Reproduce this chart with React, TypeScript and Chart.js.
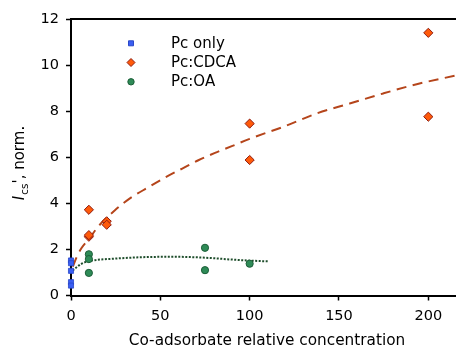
import React, { useEffect, useRef } from 'react';
import { Chart, registerables } from 'chart.js';

Chart.register(...registerables);

// ---- data ----
const pcOnlyX = [0, 0, 0, 0, 0];
const pcOnlyY = [1.52, 1.4, 1.07, 0.58, 0.43];

const cdcaX = [10, 10, 10, 20, 20, 100, 100, 200, 200];
const cdcaY = [3.72, 2.55, 2.62, 3.22, 3.07, 7.46, 5.88, 11.4, 7.76];

const oaX = [10, 10, 10, 75, 75, 100];
const oaY = [1.79, 1.58, 0.98, 2.07, 1.1, 1.38];

const cdcaFitX = [1, 3.2, 6, 10, 15.3, 24.6, 34, 43.4, 52.7, 62, 71.3, 80.6, 90, 100, 118.8, 137.5, 156, 174.8, 193.5, 215.5];
const cdcaFitY = [1.25, 1.67, 2.07, 2.45, 3.0, 3.7, 4.27, 4.7, 5.12, 5.5, 5.87, 6.19, 6.48, 6.8, 7.32, 7.9, 8.33, 8.77, 9.17, 9.55];

const oaFitX = [0.9, 6, 10, 24.6, 43.4, 58, 75, 90, 98.4, 110.5];
const oaFitY = [1.09, 1.38, 1.49, 1.6, 1.67, 1.68, 1.64, 1.56, 1.52, 1.48];

const xTicks = [0, 50, 100, 150, 200];
const yTicks = [0, 2, 4, 6, 8, 10, 12];

const legendLabels = ['Pc only', 'Pc:CDCA', 'Pc:OA'];
const xTitle = 'Co-adsorbate relative concentration';
const yTitleMain = 'I';
const yTitleSub = 'cs';
const yTitleRest = "', norm.";

const FONT = '"DejaVu Sans", "Liberation Sans", sans-serif';

const BLUE = '#3a5ef2';
const BLUE_EDGE = '#2a48c8';
const ORANGE = '#ff5a0a';
const ORANGE_EDGE = '#8f1c10';
const GREEN = '#2e8b57';
const GREEN_EDGE = '#1c5e38';
const FIT_RED = '#b5451b';
const FIT_GREEN = '#1e4d2b';

const zip = (xs: number[], ys: number[]) => xs.map((x, i) => ({ x, y: ys[i] }));

function drawMarker(ctx: CanvasRenderingContext2D, kind: number, x: number, y: number) {
  ctx.save();
  ctx.lineWidth = 1;
  if (kind === 0) {
    ctx.fillStyle = BLUE;
    ctx.strokeStyle = BLUE_EDGE;
    ctx.beginPath();
    ctx.rect(x - 2.5, y - 2.5, 5, 5);
    ctx.fill();
    ctx.stroke();
  } else if (kind === 1) {
    ctx.fillStyle = ORANGE;
    ctx.strokeStyle = ORANGE_EDGE;
    ctx.beginPath();
    ctx.moveTo(x - 4, y);
    ctx.lineTo(x, y - 4);
    ctx.lineTo(x + 4, y);
    ctx.lineTo(x, y + 4);
    ctx.closePath();
    ctx.fill();
    ctx.stroke();
  } else {
    ctx.fillStyle = GREEN;
    ctx.strokeStyle = GREEN_EDGE;
    ctx.beginPath();
    ctx.arc(x, y, 3.2, 0, Math.PI * 2);
    ctx.fill();
    ctx.stroke();
  }
  ctx.restore();
}

const decorPlugin = {
  id: 'decor',
  afterDraw(chart: any) {
    const ctx: CanvasRenderingContext2D = chart.ctx;
    const area = chart.chartArea;
    ctx.save();
    // top spine
    ctx.strokeStyle = '#000';
    ctx.lineWidth = 2;
    ctx.beginPath();
    ctx.moveTo(area.left - 1, area.top);
    ctx.lineTo(area.right, area.top);
    ctx.stroke();

    // legend
    const rowsMarkerY = [43.3, 62.5, 81.8];
    ctx.fillStyle = '#000';
    ctx.font = `15px ${FONT}`;
    ctx.textAlign = 'left';
    ctx.textBaseline = 'middle';
    legendLabels.forEach((label, i) => {
      drawMarker(ctx, i, 131, rowsMarkerY[i]);
      ctx.fillStyle = '#000';
      ctx.fillText(label, 171, rowsMarkerY[i] + 0.5);
    });

    // x title
    ctx.textAlign = 'center';
    ctx.textBaseline = 'alphabetic';
    ctx.font = `15.3px ${FONT}`;
    ctx.fillText(xTitle, 267, 344.5);

    // y title (rotated)
    const fMain = `15px ${FONT}`;
    const fIt = `italic 15px ${FONT}`;
    const fSub = `10.5px ${FONT}`;
    ctx.font = fIt;
    const wI = ctx.measureText(yTitleMain).width;
    ctx.font = fSub;
    const wS = ctx.measureText(yTitleSub).width;
    ctx.font = fMain;
    const wR = ctx.measureText(yTitleRest).width;
    const total = wI + 1 + wS + wR;
    ctx.translate(24, 163);
    ctx.rotate(-Math.PI / 2);
    ctx.textAlign = 'left';
    let px = -total / 2;
    ctx.font = fIt;
    ctx.fillText(yTitleMain, px, 0);
    px += wI + 1;
    ctx.font = fSub;
    ctx.fillText(yTitleSub, px, 3.5);
    px += wS;
    ctx.font = fMain;
    ctx.fillText(yTitleRest, px, 0);
    ctx.restore();
  },
};

export default function App() {
  const ref = useRef<HTMLCanvasElement | null>(null);

  useEffect(() => {
    if (!ref.current) return;
    const chart = new Chart(ref.current, {
      type: 'scatter',
      data: {
        datasets: [
          {
            label: legendLabels[0],
            data: zip(pcOnlyX, pcOnlyY),
            pointStyle: 'rect',
            pointRadius: 3.6,
            backgroundColor: BLUE,
            borderColor: BLUE_EDGE,
            borderWidth: 0.8,
            clip: false,
            order: 0,
          } as any,
          {
            label: legendLabels[1],
            data: zip(cdcaX, cdcaY),
            pointStyle: 'rectRot',
            pointRadius: 4.6,
            backgroundColor: ORANGE,
            borderColor: ORANGE_EDGE,
            borderWidth: 1,
            clip: false,
            order: 1,
          } as any,
          {
            label: legendLabels[2],
            data: zip(oaX, oaY),
            pointStyle: 'circle',
            pointRadius: 3.6,
            backgroundColor: GREEN,
            borderColor: GREEN_EDGE,
            borderWidth: 1,
            clip: false,
            order: 2,
          } as any,
          {
            label: 'CDCA fit',
            data: zip(cdcaFitX, cdcaFitY),
            showLine: true,
            pointRadius: 0,
            borderColor: FIT_RED,
            borderWidth: 2,
            borderDash: [10, 6.5],
            cubicInterpolationMode: 'monotone',
            fill: false,
            order: 5,
          } as any,
          {
            label: 'OA fit',
            data: zip(oaFitX, oaFitY),
            showLine: true,
            pointRadius: 0,
            borderColor: FIT_GREEN,
            borderWidth: 2,
            borderDash: [2, 1.5],
            cubicInterpolationMode: 'monotone',
            fill: false,
            order: 6,
          } as any,
        ],
      },
      options: {
        animation: false,
        responsive: false,
        maintainAspectRatio: false,
        layout: { autoPadding: false, padding: { top: 19, left: 0, right: 0, bottom: 0 } },
        plugins: {
          legend: { display: false },
          tooltip: { enabled: false },
          title: { display: false },
        },
        scales: {
          x: {
            type: 'linear',
            position: 'bottom',
            min: 0,
            max: 215.5,
            afterBuildTicks: (scale: any) => {
              scale.ticks = xTicks.map((v) => ({ value: v }));
            },
            afterFit: (scale: any) => {
              scale.height = 52.5;
              scale.paddingLeft = 0;
              scale.paddingRight = 0;
              scale.paddingTop = 0;
              scale.paddingBottom = 0;
            },
            grid: {
              drawOnChartArea: false,
              drawTicks: true,
              tickLength: 5,
              tickColor: '#000',
              tickWidth: 1.5,
            },
            border: { display: true, color: '#000', width: 2 },
            ticks: {
              color: '#000',
              font: { family: FONT, size: 14.5 },
              padding: 7,
              maxRotation: 0,
              autoSkip: false,
            },
          },
          y: {
            type: 'linear',
            position: 'left',
            min: 0,
            max: 12,
            afterBuildTicks: (scale: any) => {
              scale.ticks = yTicks.map((v) => ({ value: v }));
            },
            afterFit: (scale: any) => {
              scale.width = 71;
              scale.paddingLeft = 0;
              scale.paddingRight = 0;
              scale.paddingTop = 0;
              scale.paddingBottom = 0;
            },
            grid: {
              drawOnChartArea: false,
              drawTicks: true,
              tickLength: 5,
              tickColor: '#000',
              tickWidth: 1.5,
            },
            border: { display: true, color: '#000', width: 2 },
            ticks: {
              color: '#000',
              font: { family: FONT, size: 14.5 },
              padding: 7,
              autoSkip: false,
            },
          },
        },
      } as any,
      plugins: [decorPlugin],
    });
    return () => chart.destroy();
  }, []);

  return (
    <div style={{ position: 'absolute', left: 0, top: 0, width: 456, height: 348, background: '#fff' }}>
      <canvas ref={ref} width={456} height={348} style={{ display: 'block' }} />
    </div>
  );
}
